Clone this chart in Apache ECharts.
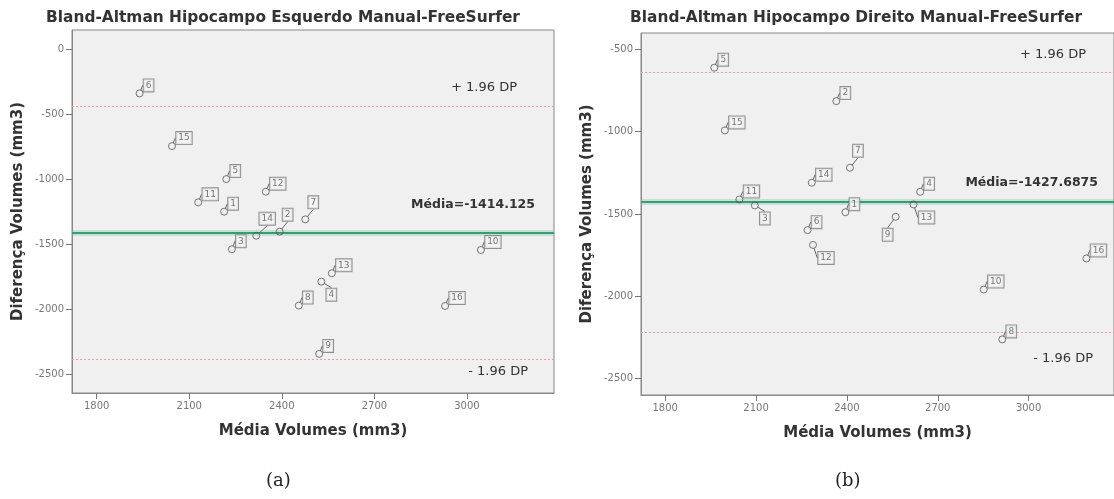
<!DOCTYPE html>
<html>
<head>
<meta charset="utf-8">
<script src="https://cdn.jsdelivr.net/npm/echarts@6/dist/echarts.min.js"></script>
<style>
html,body{margin:0;padding:0;background:#fff;}
#c{width:1114px;height:499px;}
</style>
</head>
<body>
<div id="c"></div>
<script>
// ---- data ----
const ids = [1,2,3,4,5,6,7,8,9,10,11,12,13,14,15,16];
// left: Hipocampo Esquerdo
const leftMeanVol = [2213,2393,2238,2528,2220,1939,2476,2455,2521,3045,2129,2348,2562,2317,2044,2929];
const leftDiffVol = [-1249,-1403,-1538,-1788,-998,-338,-1308,-1972,-2344,-1544,-1177,-1095,-1723,-1434,-744,-1975];
const leftLabelDir = ['ur','urL','ur','dr','ur','ur','urL','ur','ur','ur','ur','ur','ur','urL','ur','ur'];
const leftMean = -1414.125, leftUpper = -439.3, leftLower = -2387.1;
// right: Hipocampo Direito
const rightMeanVol = [2395,2365,2096,2642,1962,2270,2410,2913,2561,2852,2045,2288,2620,2284,1997,3191];
const rightDiffVol = [-1489,-814,-1448,-1365,-611,-1598,-1219,-2262,-1517,-1959,-1412,-1688,-1442,-1310,-992,-1770];
const rightLabelDir = ['ur','ur','dr','ur','ur','ur','urL','ur','dl','ur','ur','dr','dr','ur','ur','ur'];
const rightMean = -1427.6875, rightUpper = -638, rightLower = -2218;
// axes
const xTicks = [1800,2100,2400,2700,3000];
const leftYTicks = [0,-500,-1000,-1500,-2000,-2500];
const rightYTicks = [-500,-1000,-1500,-2000,-2500];
const titles = ['Bland-Altman Hipocampo Esquerdo Manual-FreeSurfer','Bland-Altman Hipocampo Direito Manual-FreeSurfer'];
const xName = 'Média Volumes (mm3)', yName = 'Diferença Volumes (mm3)';

const FONT = 'DejaVu Sans';
const chart = echarts.init(document.getElementById('c'));

function offsetFor(dir, id){
  const wide = id >= 10 ? 3 : 0;
  if (dir === 'urL') return {dx: 8 + wide, dy: -17};
  if (dir === 'dr') return {dx: 10 + wide, dy: 13};
  if (dir === 'dl') return {dx: -8, dy: 18};
  return {dx: 9 + wide, dy: -8};
}

function axisX(gi){
  return {
    gridIndex: gi, type: 'value', min: 1720, max: 3282,
    axisLine: {show: true, onZero: false, lineStyle: {color: '#888'}},
    splitLine: {show: false},
    axisTick: {show: true, inside: false, length: 6, lineStyle: {color: '#777'}, customValues: xTicks},
    axisLabel: {show: true, customValues: xTicks, formatter: v => String(v), fontSize: 10, color: '#777', fontFamily: FONT, margin: 8},
    name: xName, nameLocation: 'middle', nameGap: 31,
    nameTextStyle: {fontFamily: FONT, fontWeight: 'bold', fontSize: 15, color: '#333'}
  };
}
function axisY(gi, min, max, ticks){
  return {
    gridIndex: gi, type: 'value', min: min, max: max,
    axisLine: {show: true, onZero: false, lineStyle: {color: '#888'}},
    splitLine: {show: false},
    axisTick: {show: true, inside: false, length: 6, lineStyle: {color: '#777'}, customValues: ticks},
    axisLabel: {show: true, customValues: ticks, formatter: v => String(v), fontSize: 10, color: '#777', fontFamily: FONT, margin: 8},
    name: yName, nameLocation: 'middle', nameGap: 46,
    nameTextStyle: {fontFamily: FONT, fontWeight: 'bold', fontSize: 15, color: '#333'}
  };
}
function lines(mean, upper, lower, meanText, pads){
  const pink = {color: '#f09aa3', type: [2,2], width: 1};
  return {
    silent: true, symbol: 'none', animation: false,
    data: [
      {yAxis: upper, lineStyle: pink, label: {show: true, formatter: '+ 1.96 DP', position: 'insideEndTop', distance: 0,
        padding: pads[0], fontFamily: FONT, fontSize: 13, color: '#333'}},
      {yAxis: lower, lineStyle: pink, label: {show: true, formatter: '- 1.96 DP', position: 'insideEndBottom', distance: 0,
        padding: pads[1], fontFamily: FONT, fontSize: 13, color: '#333'}},
      {yAxis: mean, lineStyle: {color: 'rgba(110,200,165,0.35)', type: 'solid', width: 6}, label: {show: false}},
      {yAxis: mean, lineStyle: {color: '#3a9a72', type: 'solid', width: 2}, label: {show: true, formatter: meanText, position: 'insideEndTop', distance: 0,
        padding: pads[2], fontFamily: FONT, fontSize: 12.5, fontWeight: 'bold', color: '#333'}}
    ]
  };
}
function scatter(gi, xs, ys, dirs, mean, upper, lower, meanText, pads){
  return {
    type: 'scatter', xAxisIndex: gi, yAxisIndex: gi,
    symbol: 'circle', symbolSize: 7,
    itemStyle: {color: 'rgba(0,0,0,0)', borderColor: '#555', borderWidth: 1},
    data: ids.map((id, i) => ({value: [xs[i], ys[i]], name: String(id)})),
    label: {show: true, position: 'inside', formatter: p => p.name, fontFamily: FONT, fontSize: 9, color: '#555',
      borderColor: '#777', borderWidth: 1, backgroundColor: '#f4f4f4', padding: [2, 2, 1, 2]},
    labelLayout: p => offsetFor(dirs[p.dataIndex], ids[p.dataIndex]),
    labelLine: {show: true, lineStyle: {color: '#666', width: 1}},
    emphasis: {disabled: true},
    markLine: lines(mean, upper, lower, meanText, pads),
    z: 5
  };
}

chart.setOption({
  animation: false,
  backgroundColor: '#ffffff',
  title: [
    {text: titles[0], left: 278, textAlign: 'center', top: 5, textStyle: {fontFamily: FONT, fontWeight: 'bold', fontSize: 15.4, color: '#333'}},
    {text: titles[1], left: 851, textAlign: 'center', top: 5, textStyle: {fontFamily: FONT, fontWeight: 'bold', fontSize: 15.4, color: '#333'}}
  ],
  grid: [
    {left: 72, top: 30, width: 482, height: 363, show: true, backgroundColor: '#f0f0f0', borderColor: '#888', borderWidth: 1},
    {left: 641, top: 33, width: 482, height: 362, show: true, backgroundColor: '#f0f0f0', borderColor: '#888', borderWidth: 1}
  ],
  xAxis: [axisX(0), axisX(1)],
  yAxis: [axisY(0, -2645, 150, leftYTicks), axisY(1, -2600, -400, rightYTicks)],
  series: [
    scatter(0, leftMeanVol, leftDiffVol, leftLabelDir, leftMean, leftUpper, leftLower, 'Média=-1414.125',
      [[0, 37, 12, 0], [6, 26, 0, 0], [0, 19, 22, 0]]),
    scatter(1, rightMeanVol, rightDiffVol, rightLabelDir, rightMean, rightUpper, rightLower, 'Média=-1427.6875',
      [[0, 28, 11, 0], [20, 21, 0, 0], [0, 16, 13, 0]])
  ],
  graphic: [
    {type: 'text', left: 266, top: 472, style: {text: '(a)', font: '18px "DejaVu Serif"', fill: '#222'}},
    {type: 'text', left: 835, top: 472, style: {text: '(b)', font: '18px "DejaVu Serif"', fill: '#222'}}
  ]
});
</script>
</body>
</html>
